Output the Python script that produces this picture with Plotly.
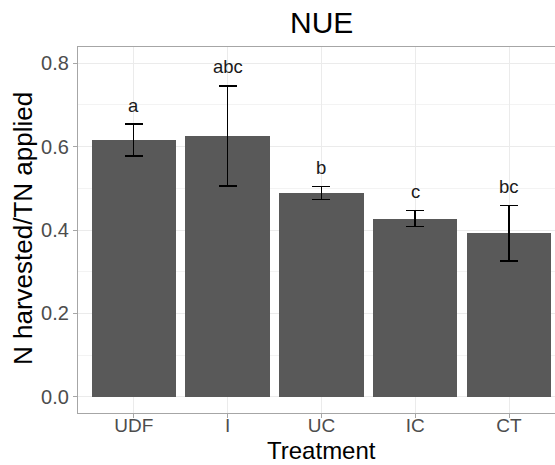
import plotly.graph_objects as go

treatments = ["UDF", "I", "UC", "IC", "CT"]
nue_mean = [0.616, 0.625, 0.489, 0.427, 0.393]
err_upper = [0.654, 0.746, 0.504, 0.447, 0.459]
err_lower = [0.577, 0.505, 0.473, 0.408, 0.326]
letters = ["a", "abc", "b", "c", "bc"]
y_ticks = [0.0, 0.2, 0.4, 0.6, 0.8]
y_ticklabels = ["0.0", "0.2", "0.4", "0.6", "0.8"]

FONT = "Liberation Sans, Arial, sans-serif"

xi = list(range(len(treatments)))
plus = [u - m for u, m in zip(err_upper, nue_mean)]
minus = [m - l for m, l in zip(nue_mean, err_lower)]

fig = go.Figure()
fig.add_trace(go.Bar(
    x=xi, y=nue_mean, width=0.9,
    marker=dict(color="#595959", line=dict(width=0)),
    error_y=dict(type="data", symmetric=False, array=plus, arrayminus=minus,
                 color="black", thickness=1.5, width=9),
    showlegend=False,
))

for x, u, t in zip(xi, err_upper, letters):
    fig.add_annotation(x=x, y=u, text=t, showarrow=False, yanchor="middle",
                       yshift=19, font=dict(family=FONT, size=18.5, color="#1a1a1a"))

cx = (321.5 - 78) / (555 - 78)
fig.add_annotation(xref="paper", yref="paper", x=cx, y=1,
                   yshift=24.5, text="NUE", showarrow=False, yanchor="middle",
                   font=dict(family=FONT, size=30, color="black"))
fig.add_annotation(xref="paper", yref="paper", x=cx, y=0,
                   yshift=-37.5, text="Treatment", showarrow=False, yanchor="middle",
                   borderpad=0,
                   font=dict(family=FONT, size=24, color="black"))
fig.add_annotation(xref="paper", yref="paper", x=0, xshift=-55, y=0.5,
                   yshift=1, text="N harvested/TN applied", showarrow=False, textangle=-90,
                   xanchor="center", yanchor="middle",
                   font=dict(family=FONT, size=26, color="black"))

fig.update_layout(
    width=555, height=465,
    margin=dict(l=78, r=0, t=47, b=52),
    paper_bgcolor="white", plot_bgcolor="white",
    bargap=0,
)
fig.update_xaxes(
    range=[-0.594, 4.49], tickmode="array", tickvals=xi, ticktext=treatments,
    showgrid=True, gridcolor="#EBEBEB", gridwidth=1.1,
    showline=True, linecolor="#A6A6A6", linewidth=1.2, mirror=True,
    ticks="outside", ticklen=4, tickcolor="#A6A6A6", tickwidth=1.1,
    ticklabelstandoff=-9,
    tickfont=dict(family=FONT, size=19, color="#4D4D4D"),
    zeroline=False,
)
fig.update_yaxes(
    range=[-0.039, 0.839], tickmode="array", tickvals=y_ticks, ticktext=y_ticklabels,
    showgrid=True, gridcolor="#EBEBEB", gridwidth=1.1,
    minor=dict(tickmode="array", tickvals=[0.1, 0.3, 0.5, 0.7], showgrid=True,
               gridcolor="#F3F3F3", gridwidth=0.6),
    showline=True, linecolor="#A6A6A6", linewidth=1.2, mirror=False,
    ticks="outside", ticklen=4, tickcolor="#A6A6A6", tickwidth=1.1,
    tickfont=dict(family=FONT, size=20, color="#4D4D4D"),
    zeroline=False,
)

fig.write_html("out.html")
